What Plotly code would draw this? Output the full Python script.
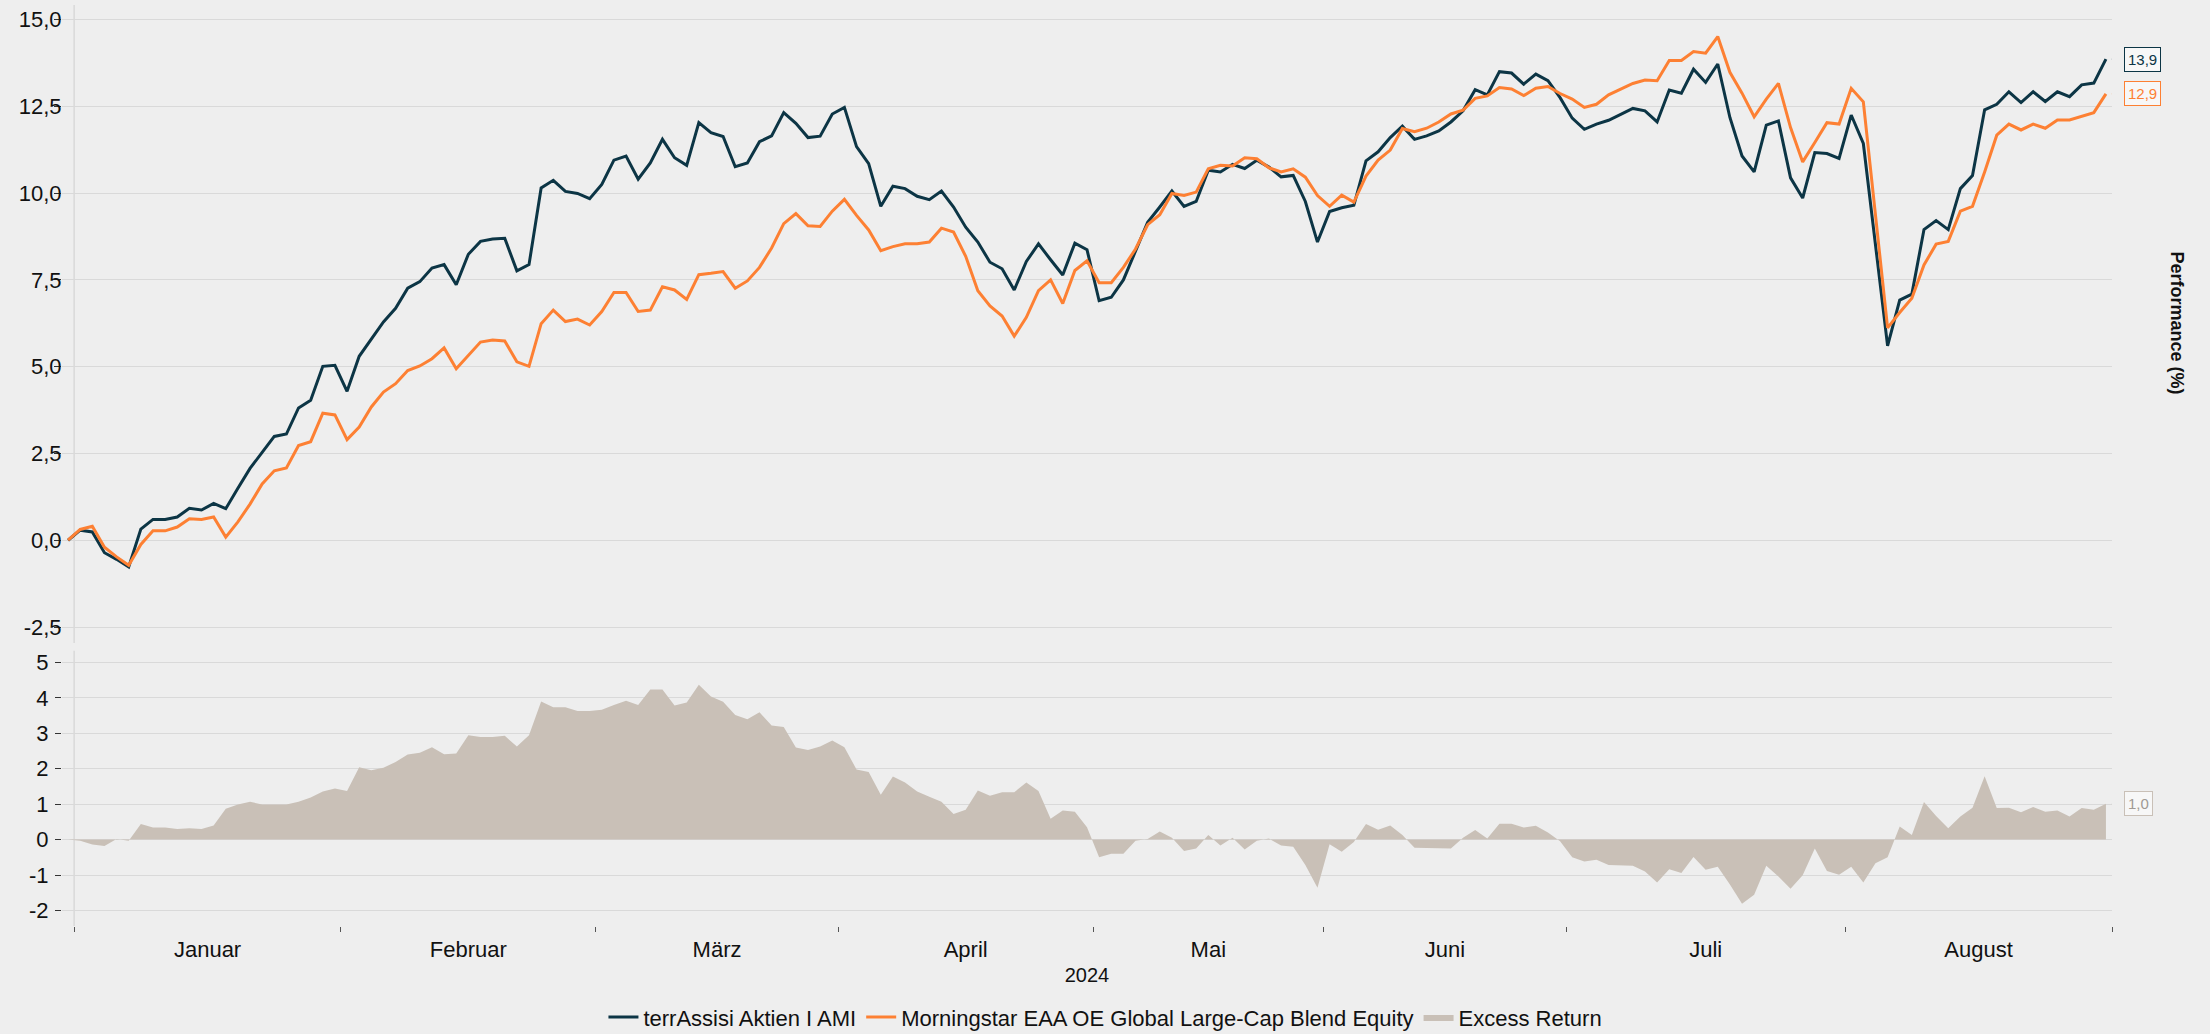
import plotly.graph_objects as go

# ---------------- data ----------------
fund_name = "terrAssisi Aktien I AMI"
bench_name = "Morningstar EAA OE Global Large-Cap Blend Equity"
excess_name = "Excess Return"

fund = [0.00, 0.29, 0.24, -0.36, -0.55, -0.77, 0.32, 0.60, 0.60, 0.67,
        0.92, 0.87, 1.06, 0.91, 1.50, 2.07, 2.53, 2.99, 3.06, 3.81,
        4.03, 5.01, 5.04, 4.29, 5.30, 5.81, 6.29, 6.68, 7.26, 7.45,
        7.84, 7.94, 7.36, 8.24, 8.61, 8.68, 8.70, 7.76, 7.94, 10.15,
        10.37, 10.05, 9.99, 9.84, 10.25, 10.95, 11.07, 10.40, 10.87, 11.55,
        11.02, 10.80, 12.03, 11.74, 11.63, 10.76, 10.87, 11.48, 11.65, 12.32,
        12.01, 11.60, 11.64, 12.28, 12.47, 11.34, 10.85, 9.62, 10.20, 10.13,
        9.91, 9.81, 10.06, 9.60, 9.02, 8.59, 8.01, 7.82, 7.21, 8.03,
        8.54, 8.08, 7.64, 8.56, 8.37, 6.90, 7.00, 7.50, 8.34, 9.16,
        9.60, 10.06, 9.62, 9.76, 10.66, 10.61, 10.83, 10.71, 10.95, 10.75,
        10.47, 10.51, 9.76, 8.59, 9.47, 9.58, 9.65, 10.93, 11.19, 11.60,
        11.93, 11.55, 11.65, 11.79, 12.05, 12.37, 12.98, 12.83, 13.50, 13.46,
        13.14, 13.43, 13.24, 12.75, 12.16, 11.84, 11.99, 12.10, 12.27, 12.44,
        12.37, 12.05, 12.97, 12.88, 13.57, 13.19, 13.72, 12.18, 11.07, 10.61,
        11.96, 12.08, 10.44, 9.86, 11.17, 11.14, 11.00, 12.25, 11.43, 8.60,
        5.60, 6.92, 7.09, 8.95, 9.21, 8.95, 10.13, 10.51, 12.40, 12.56,
        12.92, 12.61, 12.92, 12.64, 12.92, 12.78, 13.12, 13.17, 13.86]

bench = [0.00, 0.31, 0.40, -0.20, -0.48, -0.72, -0.12, 0.27, 0.27, 0.38,
         0.62, 0.60, 0.67, 0.09, 0.53, 1.04, 1.62, 2.00, 2.08, 2.73,
         2.84, 3.66, 3.61, 2.90, 3.26, 3.84, 4.27, 4.51, 4.89, 5.02,
         5.23, 5.54, 4.94, 5.31, 5.71, 5.77, 5.74, 5.14, 5.01, 6.24,
         6.63, 6.30, 6.37, 6.20, 6.59, 7.14, 7.14, 6.59, 6.63, 7.30,
         7.21, 6.94, 7.65, 7.69, 7.74, 7.26, 7.47, 7.86, 8.42, 9.12,
         9.41, 9.06, 9.04, 9.48, 9.82, 9.36, 8.94, 8.34, 8.46, 8.54,
         8.54, 8.59, 8.99, 8.88, 8.18, 7.19, 6.75, 6.46, 5.88, 6.42,
         7.19, 7.50, 6.82, 7.77, 8.05, 7.42, 7.42, 7.86, 8.39, 9.09,
         9.38, 9.99, 9.93, 10.03, 10.70, 10.80, 10.78, 11.02, 10.99, 10.73,
         10.61, 10.70, 10.46, 9.93, 9.62, 9.94, 9.74, 10.49, 10.95, 11.24,
         11.86, 11.77, 11.87, 12.05, 12.28, 12.39, 12.73, 12.80, 13.04, 13.00,
         12.81, 13.02, 13.07, 12.87, 12.71, 12.47, 12.56, 12.83, 13.00, 13.16,
         13.26, 13.24, 13.82, 13.82, 14.08, 14.03, 14.51, 13.48, 12.88, 12.20,
         12.71, 13.16, 11.89, 10.90, 11.46, 12.03, 11.99, 13.02, 12.63, 9.35,
         6.12, 6.56, 6.97, 7.93, 8.53, 8.61, 9.48, 9.62, 10.61, 11.67,
         11.99, 11.82, 11.99, 11.87, 12.11, 12.11, 12.22, 12.32, 12.86]

excess = [0.00, -0.03, -0.14, -0.18, 0.02, -0.03, 0.44, 0.34, 0.34, 0.30,
          0.32, 0.30, 0.40, 0.87, 0.99, 1.07, 0.99, 0.99, 0.99, 1.07,
          1.19, 1.36, 1.44, 1.37, 2.04, 1.96, 2.03, 2.19, 2.40, 2.45,
          2.61, 2.41, 2.43, 2.95, 2.90, 2.90, 2.93, 2.63, 2.95, 3.90,
          3.74, 3.74, 3.63, 3.63, 3.67, 3.80, 3.92, 3.80, 4.24, 4.24,
          3.79, 3.87, 4.37, 4.04, 3.89, 3.52, 3.40, 3.60, 3.22, 3.18,
          2.60, 2.53, 2.63, 2.80, 2.61, 1.98, 1.91, 1.27, 1.78, 1.61,
          1.36, 1.21, 1.07, 0.72, 0.84, 1.39, 1.24, 1.34, 1.34, 1.61,
          1.37, 0.59, 0.82, 0.79, 0.35, -0.50, -0.40, -0.40, -0.03, 0.02,
          0.23, 0.05, -0.32, -0.25, 0.13, -0.17, 0.05, -0.28, -0.03, 0.03,
          -0.17, -0.20, -0.72, -1.36, -0.13, -0.34, -0.07, 0.44, 0.28, 0.40,
          0.13, -0.23, -0.23, -0.25, -0.25, 0.05, 0.27, 0.03, 0.45, 0.45,
          0.34, 0.39, 0.20, -0.05, -0.50, -0.62, -0.57, -0.72, -0.74, -0.74,
          -0.90, -1.21, -0.84, -0.94, -0.49, -0.85, -0.77, -1.27, -1.81, -1.56,
          -0.74, -1.04, -1.39, -1.01, -0.25, -0.89, -0.99, -0.77, -1.21, -0.67,
          -0.50, 0.37, 0.13, 1.06, 0.67, 0.32, 0.65, 0.90, 1.79, 0.89,
          0.90, 0.77, 0.92, 0.79, 0.82, 0.65, 0.89, 0.84, 1.01]

months = ["Januar", "Februar", "März", "April", "Mai", "Juni", "Juli", "August"]
month_trading_days = [22, 21, 20, 21, 19, 20, 23, 22]
year_label = "2024"
y_title = "Performance (%)"
top_ticks = [-2.5, 0, 2.5, 5, 7.5, 10, 12.5, 15]
bottom_ticks = [-2, -1, 0, 1, 2, 3, 4, 5]

# ---------------- derived positions ----------------
x = list(range(len(fund)))
bounds = [0.5]
for n in month_trading_days:
    bounds.append(bounds[-1] + n)
centers = [(bounds[i] + bounds[i + 1]) / 2 for i in range(len(months))]

DARK = "#0c3545"
ORANGE = "#fd8033"
AREA = "#c9c0b7"
BG = "#eeeeee"
GRID = "#d9d9d9"
FONT = "Liberation Sans, Arial, sans-serif"


def fmt(v):
    return f"{v:.1f}".replace(".", ",")


top_text = [fmt(v) for v in top_ticks]
bottom_text = [str(v) for v in bottom_ticks]

fig = go.Figure()
fig.add_trace(go.Scatter(x=x, y=fund, mode="lines", name=fund_name,
                         line=dict(color=DARK, width=3), xaxis="x", yaxis="y"))
fig.add_trace(go.Scatter(x=x, y=bench, mode="lines", name=bench_name,
                         line=dict(color=ORANGE, width=3), xaxis="x", yaxis="y"))
fig.add_trace(go.Scatter(x=x, y=excess, mode="lines", name=excess_name,
                         fill="tozeroy", fillcolor=AREA, line=dict(color=AREA, width=0),
                         xaxis="x2", yaxis="y2"))

xr = [-0.5, 168.5]
top_dom = [0.3073, 1.0]
bot_dom = [0.0, 0.3018]
top_range = [-2.96, 15.42]
bot_range = [-2.44, 5.41]
tickfont = dict(family=FONT, size=22, color="#111")

layout = dict(
    width=2210, height=1034,
    paper_bgcolor=BG, plot_bgcolor=BG,
    margin=dict(l=62, r=98, t=5, b=108, autoexpand=False),
    font=dict(family=FONT, size=20, color="#111"),
    showlegend=True,
    legend=dict(orientation="h", x=0.509, xanchor="center", y=-0.099, yanchor="middle",
                font=dict(family=FONT, size=22, color="#111"), bgcolor="rgba(0,0,0,0)",
                itemwidth=30, tracegroupgap=0),
    xaxis=dict(domain=[0, 1], anchor="y", range=xr, showticklabels=False, showgrid=False,
               zeroline=False, ticks=""),
    xaxis2=dict(domain=[0, 1], anchor="y2", range=xr, matches="x", showgrid=False, zeroline=False,
                tickmode="array", tickvals=centers, ticktext=months, ticks="",
                tickfont=tickfont, ticklabelstandoff=8,
                minor=dict(tickmode="array", tickvals=bounds, ticks="outside", ticklen=5,
                           tickcolor="#555", tickwidth=1, showgrid=False),
                title=dict(text=year_label, font=dict(family=FONT, size=20, color="#111"), standoff=6)),
    yaxis=dict(domain=top_dom, anchor="x", range=top_range, tickmode="array", tickvals=top_ticks,
               ticktext=top_text, showgrid=True, gridcolor=GRID, gridwidth=1, zeroline=False,
               ticks="outside", ticklen=7, tickcolor="#333", tickfont=tickfont, ticklabelstandoff=-12),
    yaxis3=dict(domain=top_dom, anchor="x", overlaying="y", side="right", range=top_range,
                tickmode="array", tickvals=top_ticks, ticktext=top_text, showgrid=False,
                zeroline=False, ticks="outside", ticklen=6, tickcolor="#333", tickfont=tickfont,
                ticklabelstandoff=6),
    yaxis2=dict(domain=bot_dom, anchor="x2", range=bot_range, tickmode="array", tickvals=bottom_ticks,
                ticktext=bottom_text, showgrid=True, gridcolor=GRID, gridwidth=1, zeroline=False,
                ticks="outside", ticklen=6, tickcolor="#333", tickfont=tickfont, ticklabelstandoff=2),
    yaxis4=dict(domain=bot_dom, anchor="x2", overlaying="y2", side="right", range=bot_range,
                tickmode="array", tickvals=bottom_ticks, ticktext=bottom_text, showgrid=False,
                zeroline=False, ticks="outside", ticklen=6, tickcolor="#333", tickfont=tickfont,
                ticklabelstandoff=6),
)
fig.update_layout(**layout)

# vertical start lines
shapes = [
    dict(type="line", xref="x", yref="y domain", x0=bounds[0], x1=bounds[0], y0=0, y1=1,
         line=dict(color=GRID, width=1.5), layer="below"),
    dict(type="line", xref="x2", yref="y2 domain", x0=bounds[0], x1=bounds[0], y0=0, y1=0.99,
         line=dict(color=GRID, width=1.5), layer="below"),
]

last = len(x) - 1
callouts = [
    ("x", "y", fund[-1], DARK, DARK),
    ("x", "y", bench[-1], ORANGE, ORANGE),
    ("x2", "y2", excess[-1], AREA, "#a09a94"),
]
annotations = []
for xref, yref, val, border, txtcol in callouts:
    annotations.append(dict(x=last, y=val, xref=xref, yref=yref, text=fmt(val), showarrow=False,
                            xanchor="left", yanchor="middle", xshift=18,
                            font=dict(family=FONT, size=15, color=txtcol),
                            bgcolor="#f7f7f7", bordercolor=border, borderwidth=1, borderpad=3))
    shapes.append(dict(type="path", xref=xref, yref=yref, xsizemode="pixel", ysizemode="pixel",
                       xanchor=last, yanchor=val, path="M 18,6 L 6,0 L 18,-6",
                       line=dict(color=border, width=1), layer="above"))

annotations.append(dict(x=1.0317, y=0.6542, xref="paper", yref="paper", text="<b>" + y_title + "</b>",
                        textangle=90, showarrow=False, xanchor="center", yanchor="middle",
                        font=dict(family=FONT, size=18, color="#111")))

fig.update_layout(shapes=shapes, annotations=annotations)
fig.write_html("out.html", config={"displayModeBar": False},
               post_script="document.body.style.margin='0';document.body.style.background='#eeeeee';")
